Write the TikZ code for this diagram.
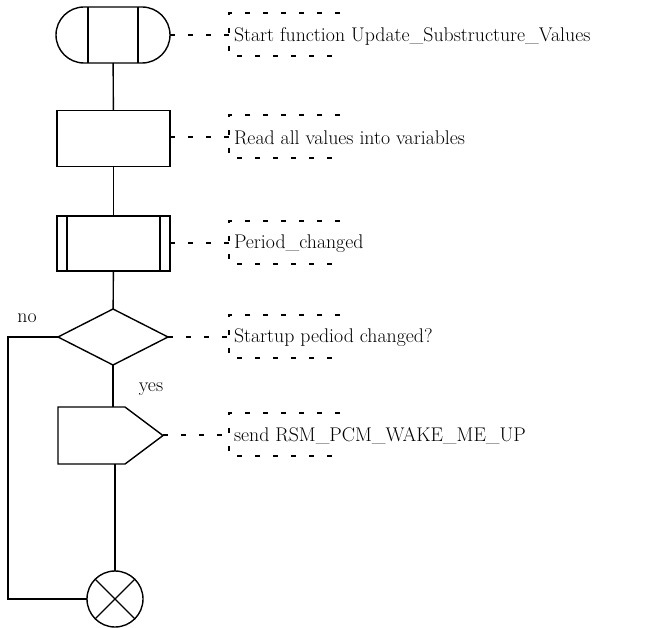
\documentclass[tikz,border=0pt]{standalone}
\usetikzlibrary{shapes.geometric,shapes.misc}
\begin{document}
\begin{tikzpicture}[x=1pt,y=-1pt,
  line width=1.4pt,
  every node/.style={inner sep=0pt, outer sep=0pt},
  flowbox/.style={draw, rectangle, minimum width=113pt, minimum height=56pt},
  dashline/.style={line width=1.1pt, dash pattern=on 5pt off 13pt},
  cmt/.style={anchor=west, font=\fontsize{19.8}{22}\selectfont},
  lbl/.style={font=\fontsize{19.8}{22}\selectfont}
]
\useasboundingbox (0,0) rectangle (645,628);

% shapes
\node[draw, rounded rectangle, minimum width=114pt, minimum height=56pt] (start) at (113,35) {};
\draw ([xshift=-25pt]start.north) -- ([xshift=-25pt]start.south);
\draw ([xshift=25pt]start.north) -- ([xshift=25pt]start.south);

\node[flowbox] (read) at (113.5,138.5) {};

\node[flowbox, minimum height=55pt] (period) at (113.5,243.5) {};
\draw ([xshift=10pt]period.north west) -- ([xshift=10pt]period.south west);
\draw ([xshift=-10pt]period.north east) -- ([xshift=-10pt]period.south east);

\node[draw, diamond, minimum width=110pt, minimum height=56pt, aspect=1.96] (dec) at (113,337) {};

\node[minimum width=105pt, minimum height=57pt] (send) at (110.5,435.5) {};
\draw (send.north west) -- ([xshift=-38pt]send.north east) -- (send.east)
      -- ([xshift=-38pt]send.south east) -- (send.south west) -- cycle;

\node[draw, circle, minimum size=56pt] (join) at (115,599) {};
\draw ([shift={(-20pt,-20pt)}]join.center) -- ([shift={(20pt,20pt)}]join.center);
\draw ([shift={(-20pt,20pt)}]join.center) -- ([shift={(20pt,-20pt)}]join.center);

% connectors
\draw (start) -- (read);
\draw (read) -- (period);
\draw (period) -- (dec);
\draw (dec.south) -- (dec.south |- send.north);
\draw (send.south -| join.north) -- (join.north);
\coordinate (lft) at (8,337);
\draw (dec.west) -- (lft) |- (join.west);

\node[lbl] (no) at (27,318) {no};
\node[lbl] (yes) at (151,389) {yes};

% comments
\foreach \nm/\yy/\txt in {start/35/{Start function Update\_Substructure\_Values},
                          read/137/{Read all values into variables},
                          period/243/{Period\_changed},
                          dec/337/{Startup pediod changed?},
                          send/435/{send RSM\_PCM\_WAKE\_ME\_UP}} {
  \coordinate (b-\nm) at (229,\yy);
  \draw[dashline] (\nm.east |- b-\nm) -- (b-\nm);
  \draw[dashline] (340,\yy-22) -- (229,\yy-22) -- (229,\yy+21) -- (340,\yy+21);
  \node[cmt] (c-\nm) at (234,\yy+1) {\txt};
}
\end{tikzpicture}
\end{document}
